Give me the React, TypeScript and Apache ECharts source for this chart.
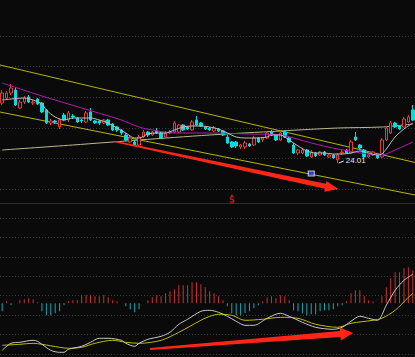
import React, { useEffect, useRef } from "react";
import * as echarts from "echarts";

// ---------- data ----------
const N = 94;
const categories: string[] = Array.from({ length: N }, (_, i) => String(i + 1));

const opens = [25.21,25.31,25.41,25.47,25.11,25.23,25.33,25.21,25.29,25.21,
25.07,24.81,24.85,24.73,24.97,24.87,24.95,24.91,24.87,24.83,
25.03,24.85,24.85,24.81,24.87,24.79,24.73,24.67,24.57,24.43,
24.43,24.37,24.53,24.63,24.57,24.65,24.61,24.53,24.61,24.63,
24.63,24.77,24.73,24.67,24.87,24.81,24.73,24.71,24.65,24.69,
24.65,24.53,24.43,24.43,24.33,24.33,24.39,24.37,24.51,24.47,
24.51,24.63,24.57,24.47,24.63,24.51,24.37,24.21,24.21,24.27,
24.13,24.21,24.17,24.23,24.13,24.17,24.07,24.21,24.27,24.21,
24.53,24.37,24.27,24.13,24.17,24.17,24.13,24.47,24.61,24.81,
24.75,24.73,24.83,25.07];
const closes = [25.41,25.41,25.51,25.17,25.23,25.31,25.23,25.23,25.19,25.03,
24.81,24.85,24.83,24.87,24.87,25.01,24.93,24.83,24.85,25.01,
24.87,24.81,24.81,24.87,24.77,24.67,24.67,24.61,24.47,24.51,
24.37,24.53,24.63,24.57,24.63,24.61,24.51,24.61,24.63,24.81,
24.77,24.67,24.69,24.83,24.77,24.75,24.69,24.67,24.71,24.65,
24.57,24.41,24.33,24.35,24.37,24.41,24.35,24.51,24.43,24.51,
24.61,24.57,24.47,24.61,24.53,24.43,24.21,24.27,24.27,24.15,
24.23,24.15,24.23,24.17,24.17,24.11,24.17,24.23,24.21,24.43,
24.47,24.31,24.13,24.17,24.23,24.11,24.47,24.71,24.81,24.73,
24.69,24.89,24.93,24.87];
const lows = [25.17,25.27,25.37,25.15,25.09,25.19,25.21,25.17,25.17,25.01,
24.79,24.77,24.79,24.69,24.85,24.83,24.89,24.81,24.81,24.81,
24.85,24.79,24.77,24.79,24.75,24.65,24.63,24.57,24.45,24.41,
24.35,24.35,24.51,24.53,24.55,24.59,24.49,24.51,24.59,24.61,
24.61,24.65,24.67,24.65,24.75,24.73,24.67,24.65,24.63,24.63,
24.55,24.39,24.31,24.31,24.29,24.29,24.33,24.35,24.41,24.43,
24.49,24.55,24.45,24.45,24.51,24.41,24.19,24.17,24.19,24.13,
24.11,24.13,24.15,24.15,24.11,24.09,24.01,24.17,24.19,24.19,
24.45,24.29,24.11,24.11,24.15,24.09,24.11,24.45,24.59,24.71,
24.67,24.71,24.81,24.85];
const highs = [25.47,25.45,25.59,25.51,25.27,25.35,25.37,25.27,25.31,25.23,
25.09,24.89,24.87,24.91,25.01,25.05,24.99,24.93,24.89,25.05,
25.11,24.87,24.87,24.89,24.89,24.81,24.75,24.69,24.61,24.55,
24.47,24.57,24.67,24.65,24.65,24.71,24.63,24.65,24.67,24.85,
24.79,24.79,24.75,24.87,24.95,24.83,24.75,24.73,24.75,24.71,
24.67,24.57,24.45,24.45,24.39,24.45,24.41,24.55,24.53,24.53,
24.65,24.67,24.59,24.65,24.67,24.53,24.41,24.29,24.31,24.29,
24.27,24.23,24.25,24.25,24.19,24.19,24.21,24.27,24.29,24.47,
24.63,24.39,24.29,24.19,24.25,24.19,24.51,24.75,24.85,24.83,
24.77,24.93,24.97,25.17];

// moving averages, read at sampled days: [dayIndex, value]
const maShort = [[0,25.27],[2,25.29],[5,25.31],[7,25.27],[9,25.19],[10,25.07],[12,24.93],[14,24.87],[16,24.91],[18,24.91],[20,24.91],[22,24.87],[24,24.81],[26,24.71],[28,24.61],[30,24.51],[31,24.51],[33,24.59],[35,24.61],[37,24.61],[39,24.67],[41,24.73],[43,24.75],[45,24.75],[47,24.73],[49,24.69],[51,24.61],[53,24.53],[55,24.51],[57,24.51],[60,24.53],[61,24.57],[63,24.57],[65,24.47],[67,24.35],[69,24.25],[71,24.21],[73,24.21],[75,24.19],[77,24.19],[79,24.21],[81,24.25],[83,24.21],[85,24.17],[86,24.19],[87,24.29],[89,24.53],[91,24.69],[93,24.81]];
const maMid = [[0,25.61],[9,25.35],[18,25.11],[27,24.87],[31,24.73],[34,24.67],[39,24.61],[47,24.61],[56,24.59],[63,24.57],[70,24.41],[76,24.29],[86,24.17],[89,24.27],[93,24.43]];
const maLong = [[0,24.27],[16,24.37],[31,24.47],[47,24.57],[63,24.65],[76,24.71],[86,24.73],[93,24.79]];

// drawn trend lines: [dayPosition, price]
const trendUpper = [[-0.5,25.97],[93.5,24.02]];
const trendLower = [[-0.5,25.03],[93.5,23.37]];

// arrows: [fromDay, fromValue, toDay, toValue]
const priceArrow = [[25.5,24.44,76.1,23.49]];
const macdArrow = [[33.5,-0.114,79.5,-0.074]];

// markers
const lowMark = [[76, 24.01]];
const boxMark = [[70, 23.80]];
const sMark = [[52, 23.36]];

// MACD
const macdHist = [
-0.020,0.005,-0.005,0,0.0075,0.010,0.0125,0.010,0.0025,-0.020,
-0.030,-0.030,-0.025,-0.020,-0.005,0.005,0.0075,0.0075,0.020,0.020,
0.020,0.0175,0.0175,0.020,0.015,0.0075,0.005,0,-0.0075,-0.015,
-0.0225,-0.015,0,0.0075,0.015,0.020,0.0175,0.025,0.030,0.035,
0.045,0.045,0.045,0.0525,0.0525,0.0475,0.040,0.030,0.025,0.0175,
0.0075,-0.0075,-0.025,-0.030,-0.030,-0.025,-0.020,-0.0125,-0.005,0.005,
0.015,0.0175,0.0125,0.020,0.0175,0.0075,-0.0175,-0.020,-0.025,-0.030,
-0.0275,-0.0275,-0.020,-0.0175,-0.0175,-0.015,-0.0075,-0.005,0.005,0.025,
0.0325,0.0325,0.0175,0.0075,0.005,0,0.0175,0.040,0.0625,0.0775,
0.0775,0.0875,0.090,0.0825];
const difPts = [[0,-0.1175],[2,-0.100],[4,-0.0975],[7,-0.0925],[8,-0.095],[9,-0.1025],[11,-0.1175],[13,-0.1225],[14,-0.1225],[15,-0.115],[18,-0.1075],[20,-0.0975],[22,-0.0875],[24,-0.0875],[27,-0.0925],[28,-0.100],[30,-0.1075],[31,-0.100],[33,-0.090],[36,-0.0825],[38,-0.0725],[40,-0.0525],[42,-0.040],[45,-0.020],[47,-0.0175],[49,-0.0225],[51,-0.0325],[53,-0.045],[55,-0.055],[57,-0.055],[60,-0.0375],[63,-0.025],[65,-0.0325],[68,-0.0475],[71,-0.060],[75,-0.065],[77,-0.060],[79,-0.045],[81,-0.0325],[83,-0.0375],[85,-0.0425],[87,-0.005],[89,0.0325],[91,0.0575],[93,0.0725]];
const deaPts = [[0,-0.105],[4,-0.1025],[7,-0.100],[9,-0.1025],[13,-0.110],[15,-0.1125],[18,-0.110],[21,-0.100],[25,-0.0925],[28,-0.0975],[31,-0.100],[36,-0.0925],[40,-0.0725],[45,-0.0425],[47,-0.0325],[49,-0.0275],[52,-0.030],[55,-0.0425],[59,-0.040],[63,-0.035],[67,-0.0375],[71,-0.0525],[76,-0.060],[79,-0.050],[84,-0.0425],[86,-0.0375],[89,-0.0175],[92,0.015],[93,0.025]];

// ---------- chart ----------
const BG = "#0a0a0a";
const GRIDLINE = { show: true, lineStyle: { color: "#383838", width: 1, type: [1, 2] as any } };

function makeArrow(tailW: number, neckW: number, headW: number, headL: number, fill: string) {
  return (_p: any, api: any) => {
    const a = api.coord([api.value(0), api.value(1)]);
    const b = api.coord([api.value(2), api.value(3)]);
    const dx = b[0] - a[0], dy = b[1] - a[1];
    const len = Math.hypot(dx, dy) || 1;
    const ux = dx / len, uy = dy / len, nx = -uy, ny = ux;
    const kx = b[0] - ux * headL, ky = b[1] - uy * headL;
    const pts = [
      [a[0] + nx * tailW / 2, a[1] + ny * tailW / 2],
      [kx + nx * neckW / 2, ky + ny * neckW / 2],
      [kx + nx * headW / 2, ky + ny * headW / 2],
      [b[0], b[1]],
      [kx - nx * headW / 2, ky - ny * headW / 2],
      [kx - nx * neckW / 2, ky - ny * neckW / 2],
      [a[0] - nx * tailW / 2, a[1] - ny * tailW / 2],
    ];
    return { type: "polygon", shape: { points: pts }, style: { fill } };
  };
}

function buildOption() {
  const candles = opens.map((o, i) => [o, closes[i], lows[i], highs[i]]);
  const lowText = Math.min(...lows).toFixed(2);
  return {
    animation: false,
    backgroundColor: BG,
    grid: [
      { left: 0, right: 0, top: 0, height: 203 },
      { left: 0, right: 0, top: 36, height: 153 },
      { left: 0, right: 0, top: 218, height: 136 },
    ],
    xAxis: [
      { gridIndex: 0, type: "category", data: categories, boundaryGap: true,
        axisLine: { show: true, onZero: false, lineStyle: { color: "#2e2e2e", width: 1 } },
        axisTick: { show: false }, axisLabel: { show: false }, splitLine: { show: false } },
      { gridIndex: 0, type: "value", min: -0.5, max: 93.5, show: false },
      { gridIndex: 1, type: "value", min: 0, max: 1, show: false },
      { gridIndex: 2, type: "category", data: categories, show: false },
      { gridIndex: 2, type: "value", min: -0.5, max: 93.5, show: false },
    ],
    yAxis: [
      { gridIndex: 0, type: "value", min: 23.21, max: 27.27, show: false },
      { gridIndex: 1, type: "value", min: 0, max: 5, interval: 1,
        axisLine: { show: false }, axisTick: { show: false }, axisLabel: { show: false }, splitLine: GRIDLINE },
      { gridIndex: 2, type: "value", min: 0, max: 7, interval: 1,
        axisLine: { show: false }, axisTick: { show: false }, axisLabel: { show: false }, splitLine: GRIDLINE },
      { gridIndex: 2, type: "value", min: -0.12675, max: 0.21325, show: false },
    ],
    series: [
      { type: "line", xAxisIndex: 0, yAxisIndex: 0, data: maLong, symbol: "none", smooth: 0.3,
        lineStyle: { color: "#bdb98a", width: 1 }, z: 2 },
      { type: "line", xAxisIndex: 1, yAxisIndex: 0, data: trendUpper, symbol: "none",
        lineStyle: { color: "#b4b400", width: 1 }, z: 2 },
      { type: "line", xAxisIndex: 1, yAxisIndex: 0, data: trendLower, symbol: "none",
        lineStyle: { color: "#b4b400", width: 1 }, z: 2 },
      { type: "candlestick", xAxisIndex: 0, yAxisIndex: 0, data: candles, barWidth: 3,
        itemStyle: { color: BG, color0: "#00dede", borderColor: "#e83a3a", borderColor0: "#00dede", borderWidth: 1 }, z: 3 },
      { type: "line", xAxisIndex: 0, yAxisIndex: 0, data: maMid, symbol: "none", smooth: 0.3,
        lineStyle: { color: "#b01cb0", width: 1 }, z: 4 },
      { type: "line", xAxisIndex: 0, yAxisIndex: 0, data: maShort, symbol: "none", smooth: 0.3,
        lineStyle: { color: "#bdbdbd", width: 1 }, z: 4 },
      { type: "custom", xAxisIndex: 1, yAxisIndex: 0, data: priceArrow, encode: { x: [0, 2], y: [1, 3] },
        renderItem: makeArrow(1.5, 5, 11, 13, "#ff2618"), clip: false, z: 6 },
      { type: "custom", xAxisIndex: 0, yAxisIndex: 0, data: lowMark, clip: false, z: 6,
        renderItem: (_p: any, api: any) => {
          const p = api.coord([api.value(0), api.value(1)]);
          return { type: "group", children: [
            { type: "line", shape: { x1: p[0] + 1, y1: p[1], x2: p[0] + 6, y2: p[1] - 2 },
              style: { stroke: "#e6e6e6", lineWidth: 1 } },
            { type: "text", style: { text: lowText, x: p[0] + 8, y: p[1] - 3, fill: "#e6e6e6",
              font: '8px "Liberation Sans", Arial, sans-serif', verticalAlign: "middle", align: "left" } },
          ] };
        } },
      { type: "scatter", xAxisIndex: 0, yAxisIndex: 0, data: boxMark, symbol: "rect", symbolSize: [6, 5],
        itemStyle: { color: "#2848ff", borderColor: "#e8e8e8", borderWidth: 1 }, z: 6 },
      { type: "scatter", xAxisIndex: 0, yAxisIndex: 0, data: sMark, symbol: "circle", symbolSize: 2,
        itemStyle: { color: "#e02020" },
        label: { show: true, formatter: "S", position: "bottom", distance: 0, color: "#e02020",
          fontSize: 8, fontWeight: "bold", fontFamily: "DejaVu Sans" }, z: 6 },
      { type: "bar", xAxisIndex: 3, yAxisIndex: 3, data: macdHist, barWidth: 1,
        itemStyle: { color: (p: any) => (p.value >= 0 ? "#c83232" : "#18a8b0") }, z: 3 },
      { type: "line", xAxisIndex: 3, yAxisIndex: 3, data: deaPts, symbol: "none", smooth: 0.3,
        lineStyle: { color: "#bcbc00", width: 1 }, z: 4 },
      { type: "line", xAxisIndex: 3, yAxisIndex: 3, data: difPts, symbol: "none", smooth: 0.3,
        lineStyle: { color: "#c8c8c8", width: 1 }, z: 4 },
      { type: "custom", xAxisIndex: 4, yAxisIndex: 3, data: macdArrow, encode: { x: [0, 2], y: [1, 3] },
        renderItem: makeArrow(2, 6, 13, 13, "#ff2618"), clip: false, z: 6 },
    ],
  };
}

export default function App() {
  const ref = useRef<HTMLDivElement>(null);
  useEffect(() => {
    if (!ref.current) return;
    const chart = echarts.init(ref.current, null, { renderer: "svg" });
    chart.setOption(buildOption() as any);
    return () => chart.dispose();
  }, []);
  return (
    <div
      ref={ref}
      style={{ position: "fixed", left: 0, top: 0, width: 415, height: 357, background: BG }}
    />
  );
}
